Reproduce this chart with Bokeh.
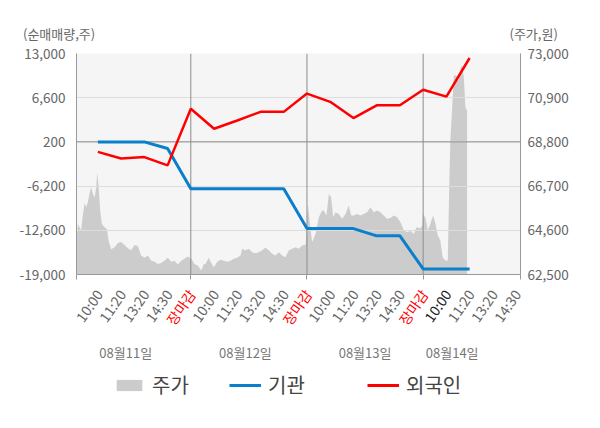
from bokeh.plotting import figure
from bokeh.models import (Range1d, LinearAxis, FixedTicker, Span,
                          Legend, LegendItem, NumeralTickFormatter)
from bokeh.core.properties import value
from bokeh.embed import file_html
from bokeh.resources import INLINE

FONT = "Noto Sans CJK KR"

# ---------------- data ----------------
tick_labels = ["10:00", "11:20", "13:20", "14:30", "장마감",
               "10:00", "11:20", "13:20", "14:30", "장마감",
               "10:00", "11:20", "13:20", "14:30", "장마감",
               "10:00", "11:20", "13:20", "14:30"]
tick_colors = ["#666666"] * 4 + ["#ff0000"] + ["#666666"] * 4 + ["#ff0000"] + \
              ["#666666"] * 4 + ["#ff0000"] + ["#222222"] + ["#666666"] * 3
date_labels = ["08월11일", "08월12일", "08월13일", "08월14일"]
date_pos = [2.2, 7.35, 12.5, 16.25]
left_ticks = [-19000, -12600, -6200, 200, 6600, 13000]
right_ticks = [62500, 64600, 66700, 68800, 70900, 73000]

line_slots = list(range(1, 18))
inst = [200, 200, 200, -750, -6600, -6600, -6600, -6600, -6600,
        -12350, -12350, -12350, -13400, -13400, -18200, -18200, -18200]
foreign = [-1250, -2200, -2000, -3200, 5000, 2100, 3300, 4550, 4550,
           7200, 6000, 3650, 5500, 5500, 7750, 6750, 12350]

price_x = [0.08, 0.14, 0.21, 0.28, 0.35, 0.43, 0.50, 0.57, 0.64, 0.71,
           0.78, 0.86, 0.93, 0.97, 1.03, 1.10, 1.17, 1.29, 1.39, 1.46,
           1.57, 1.72, 1.86, 2.00, 2.15, 2.29, 2.43, 2.58, 2.72, 2.86,
           3.01, 3.15, 3.30, 3.44, 3.58, 3.72, 3.87, 4.01, 4.16, 4.30,
           4.44, 4.59, 4.73, 4.87, 5.02, 5.16, 5.30, 5.45, 5.56, 5.63,
           5.77, 5.85, 5.99, 6.14, 6.28, 6.42, 6.57, 6.71, 6.85, 7.00,
           7.14, 7.21, 7.35, 7.50, 7.64, 7.78, 7.93, 8.07, 8.21, 8.36,
           8.50, 8.64, 8.79, 8.93, 9.07, 9.22, 9.36, 9.51, 9.65, 9.79,
           9.94, 10.04, 10.12, 10.22, 10.37, 10.51, 10.65, 10.72, 10.84, 10.94,
           11.04, 11.13, 11.23, 11.37, 11.51, 11.66, 11.80, 11.90, 12.01, 12.16,
           12.30, 12.44, 12.59, 12.73, 12.87, 13.02, 13.16, 13.30, 13.45, 13.59,
           13.74, 13.88, 14.02, 14.17, 14.31, 14.45, 14.60, 14.71, 14.88, 14.96,
           15.00, 15.10, 15.20, 15.31, 15.43, 15.53, 15.63, 15.74, 15.84, 15.96,
           16.06, 16.12, 16.17, 16.25, 16.32, 16.43, 16.53, 16.60, 16.68, 16.75,
           16.82, 16.89]
price = [64100, 64900, 64750, 64600, 65300, 65900, 65700, 65950, 66350, 66650,
         66350, 66150, 66650, 67350, 66700, 65550, 64900, 64750, 64650, 64100,
         63700, 63800, 64000, 64050, 63900, 63750, 63650, 63900, 63850, 63400,
         63300, 63400, 63150, 63100, 63000, 63050, 63150, 63300, 63100, 63150,
         62980, 63150, 63250, 63350, 63250, 63000, 62930, 62690, 63000, 63000,
         63300, 63100, 62850, 63100, 63200, 63150, 63100, 63150, 63250, 63300,
         63400, 63720, 63650, 63720, 63560, 63510, 63560, 63650, 63770, 63650,
         63480, 63400, 63560, 63400, 63320, 63650, 63720, 63800, 63720, 63880,
         63930, 65860, 64990, 64050, 64430, 65220, 65540, 65540, 65300, 66330,
         66170, 65220, 65460, 65380, 65150, 65380, 65780, 65300, 65300, 65380,
         65300, 65380, 65460, 65700, 65460, 65540, 65460, 65300, 65150, 65190,
         65300, 65220, 64990, 64600, 64510, 64580, 64430, 64750, 64700, 64830,
         65380, 65200, 64600, 64910, 65300, 64910, 64350, 64120, 63320, 63170,
         63170, 66490, 68870, 70450, 71950, 71950, 71720, 72270, 72430, 71870,
         70450, 70290]

# ---------------- layout constants ----------------
W = 600
TOP_H = 43          # strip with the two unit titles
MAIN_H = 241        # main chart (frame 221 px tall)
BOT_H = 428 - TOP_H - MAIN_H
B_LEFT, B_RIGHT = 76, 80
FRAME_W = W - B_LEFT - B_RIGHT
X_START, X_END = 0.08, 19.19
day_bounds = [5, 10, 15]
pps = FRAME_W / (X_END - X_START)

# ---------------- top strip (unit titles) ----------------
top = figure(width=W, height=TOP_H, x_range=Range1d(0, W), y_range=Range1d(TOP_H, 0),
             x_axis_type=None, y_axis_type=None, output_backend="svg",
             toolbar_location=None, min_border=0, outline_line_color=None)
top.text(x=[22.5], y=[32.5], text=["(순매매량,주)"], text_font=value(FONT),
         text_font_size=value("13px"), text_color="#666666", text_baseline="middle")
top.text(x=[509], y=[32.5], text=["(주가,원)"], text_font=value(FONT),
         text_font_size=value("13px"), text_color="#666666", text_baseline="middle")

# ---------------- main chart ----------------
p = figure(width=W, height=MAIN_H, x_range=Range1d(X_START, X_END),
           y_range=Range1d(left_ticks[0], left_ticks[-1]),
           output_backend="svg", toolbar_location=None,
           min_border_left=B_LEFT, min_border_right=B_RIGHT,
           min_border_top=MAIN_H - 221 - 10, min_border_bottom=10)
p.extra_y_ranges = {"price": Range1d(right_ticks[0], right_ticks[-1])}
p.background_fill_color = "#f5f5f5"
p.border_fill_color = "white"
p.outline_line_color = None

ay = p.yaxis[0]
ay.ticker = FixedTicker(ticks=left_ticks)
ay.formatter = NumeralTickFormatter(format="0,0")
ay.major_tick_out = 0
ay.major_tick_in = 0
ay.minor_tick_line_color = None
ay.axis_line_color = "#999999"
ay.major_label_standoff = 11
ay.major_label_text_font = FONT
ay.major_label_text_font_size = "13.5px"
ay.major_label_text_color = "#666666"

ra = LinearAxis(y_range_name="price", ticker=FixedTicker(ticks=right_ticks),
                formatter=NumeralTickFormatter(format="0,0"))
ra.major_tick_out = 0
ra.major_tick_in = 0
ra.minor_tick_line_color = None
ra.axis_line_color = "#999999"
ra.major_label_standoff = 7
ra.major_label_text_font = FONT
ra.major_label_text_font_size = "13.5px"
ra.major_label_text_color = "#666666"
p.add_layout(ra, "right")

ax = p.xaxis[0]
ax.ticker = FixedTicker(ticks=[], minor_ticks=[X_START + 0.01] + day_bounds + [X_END - 0.01])
ax.major_tick_out = 0
ax.major_tick_in = 0
ax.minor_tick_out = 5
ax.minor_tick_in = 0
ax.minor_tick_line_color = "#999999"
ax.axis_line_color = "#999999"
ax.major_label_standoff = 0
ax.major_label_text_font_size = "0px"

p.xgrid.visible = False
p.ygrid.ticker = FixedTicker(ticks=left_ticks)
p.ygrid.grid_line_color = "#dddddd"

for b in day_bounds:
    p.add_layout(Span(location=b, dimension="height", line_color="#8c8c8c",
                      line_width=1, level="underlay"))
p.add_layout(Span(location=200, dimension="width", line_color="#8c8c8c",
                  line_width=1, level="underlay"))

p.varea(x=price_x, y1=[right_ticks[0]] * len(price_x), y2=price,
        y_range_name="price", fill_color="#cccccc", level="image")
p.line(line_slots, inst, line_color="#0a7fcc", line_width=3)
p.line(line_slots, foreign, line_color="#ff0000", line_width=2.5)

# ---------------- bottom strip (tick labels, dates, legend) ----------------
y0 = TOP_H + MAIN_H
bot = figure(width=W, height=BOT_H,
             x_range=Range1d(X_START - B_LEFT / pps, X_END + B_RIGHT / pps),
             y_range=Range1d(428, y0),
             x_axis_type=None, y_axis_type=None, output_backend="svg",
             toolbar_location=None, min_border=0, outline_line_color=None)
slots = list(range(1, len(tick_labels) + 1))
bot.text(x=slots, y=[290.8] * len(slots), text=tick_labels, text_color=tick_colors,
         angle=0.96, text_align="right", text_baseline="middle", x_offset=1,
         text_font=value(FONT), text_font_size=value("14px"))
bot.text(x=date_pos, y=[352] * len(date_pos), text=date_labels, text_color="#777777",
         text_align="center", text_baseline="middle",
         text_font=value(FONT), text_font_size=value("13px"))

# hidden copies of the series, only used to draw the legend swatches
g_area = bot.varea(x=price_x, y1=[right_ticks[0]] * len(price_x), y2=price,
                   fill_color="#cccccc", visible=False)
g_inst = bot.line(x=line_slots, y=inst, line_color="#0a7fcc", line_width=3, visible=False)
g_for = bot.line(x=line_slots, y=foreign, line_color="#ff0000", line_width=3, visible=False)


def make_legend(label, rend, loc):
    lg = Legend(items=[LegendItem(label=label, renderers=[rend])], location=loc,
                orientation="horizontal", glyph_width=32, glyph_height=14,
                label_height=14, label_standoff=7, padding=0, margin=0,
                border_line_color=None, background_fill_alpha=0,
                label_text_font=FONT, label_text_font_size="20px",
                label_text_color="#444444", label_text_baseline="middle")
    bot.add_layout(lg)


LEG_Y = 29
make_legend("주가", g_area, (113, LEG_Y))
make_legend("기관", g_inst, (229, LEG_Y))
make_legend("외국인", g_for, (367, LEG_Y))

open("out.html", "w").write(file_html([top, p, bot], INLINE))
